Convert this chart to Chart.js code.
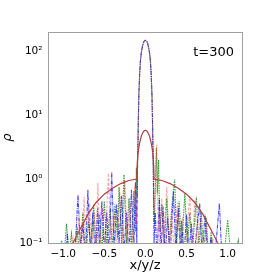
<!DOCTYPE html>
<html>
<head>
<meta charset="utf-8">
<script src="https://cdn.jsdelivr.net/npm/chart.js@4"></script>
<style>
  html, body { margin: 0; padding: 0; background: #fff; }
  #wrap { width: 270px; height: 273px; }
</style>
</head>
<body>
<div id="wrap"><canvas id="myChart" width="270" height="273"></canvas></div>
<script>
// tick values
const xTicks = [-1.0, -0.5, 0.0, 0.5, 1.0];
const yTicks = [0.1, 1, 10, 100];
const yMinor = [0.2, 0.3, 0.4, 0.5, 0.6, 0.7, 0.8, 0.9, 2, 3, 4, 5, 6, 7, 8, 9,
                20, 30, 40, 50, 60, 70, 80, 90, 200];

// analytic solution (solid red)
const solX = [-0.88, -0.85, -0.8, -0.75, -0.7, -0.6, -0.5, -0.4, -0.3, -0.2, -0.105,
              -0.1, -0.09, -0.07, -0.05, -0.03, -0.015, 0, 0.015, 0.03, 0.05, 0.07, 0.09, 0.1,
              0.105, 0.2, 0.3, 0.4, 0.5, 0.6, 0.7, 0.75, 0.8, 0.85, 0.88];
const solY = [0.1, 0.12, 0.16, 0.21, 0.28, 0.43, 0.58, 0.72, 0.85, 0.95, 1.0,
              1.7, 2.6, 3.7, 4.7, 5.4, 5.7, 5.8, 5.7, 5.4, 4.7, 3.7, 2.6, 1.7,
              1.0, 0.95, 0.85, 0.72, 0.58, 0.43, 0.28, 0.21, 0.16, 0.12, 0.1];

// central peak shared by the simulated profiles
const peakX = [-0.1, -0.095, -0.09, -0.085, -0.08, -0.07, -0.06, -0.05, -0.04, -0.03, -0.02, -0.01, 0,
               0.01, 0.02, 0.03, 0.04, 0.05, 0.06, 0.07, 0.08, 0.085, 0.09, 0.095, 0.1];
const peakY = [0.5, 2, 4, 10, 20, 45, 72, 95, 113, 128, 140, 146, 148,
               146, 140, 128, 113, 95, 72, 45, 20, 10, 4, 2, 0.5];

// x profile (blue dash-dot)
const blueLX = [-1.1, -0.97, -0.95, -0.93, -0.86, -0.82, -0.79, -0.76, -0.73, -0.70, -0.67, -0.64,
                -0.61, -0.58, -0.56, -0.53, -0.5, -0.47, -0.44, -0.41, -0.38, -0.35, -0.32, -0.29,
                -0.26, -0.23, -0.2, -0.17, -0.14, -0.12, -0.105];
const blueLY = [0.05, 0.05, 0.14, 0.05, 0.06, 0.57, 0.08, 0.2, 0.05, 0.68, 0.07, 0.3,
                0.06, 0.35, 0.09, 0.45, 0.07, 0.3, 0.06, 1.29, 0.08, 0.4, 0.1, 0.55,
                0.07, 0.3, 0.06, 0.68, 0.09, 0.9, 0.1];
const blueRX = [0.105, 0.12, 0.14, 0.17, 0.19, 0.215, 0.24, 0.27, 0.3, 0.34, 0.37, 0.4, 0.43,
                0.44, 0.47, 0.5, 0.53, 0.56, 0.59, 0.66, 0.69, 0.725, 0.76, 0.8, 0.84, 0.9,
                0.93, 1.0];
const blueRY = [0.1, 0.3, 0.06, 0.5, 0.07, 0.37, 0.06, 0.25, 0.06, 0.64, 0.08, 0.35, 0.06,
                0.22, 0.06, 0.28, 0.07, 0.2, 0.06, 0.42, 0.06, 0.28, 0.06, 0.12, 0.05, 0.42,
                0.06, 0.05];

// y profile (light red dashed)
const pinkLX = [-0.92, -0.88, -0.85, -0.81, -0.78, -0.745, -0.72, -0.68, -0.65, -0.62, -0.6,
                -0.58, -0.55, -0.52, -0.49, -0.45, -0.42, -0.38, -0.35, -0.31, -0.28, -0.25,
                -0.22, -0.19, -0.16, -0.13, -0.11];
const pinkLY = [0.05, 0.12, 0.05, 0.25, 0.07, 0.53, 0.06, 0.42, 0.08, 0.3, 0.07,
                0.87, 0.1, 0.35, 0.08, 1.24, 0.1, 0.3, 0.07, 0.6, 0.1, 0.97,
                0.08, 0.5, 0.1, 0.8, 0.2];
const pinkRX = [0.105, 0.125, 0.138, 0.15, 0.17, 0.2, 0.22, 0.26, 0.29, 0.32, 0.35, 0.39,
                0.42, 0.45, 0.48, 0.54, 0.57, 0.6, 0.63, 0.67, 0.7, 0.74, 0.77, 0.82, 0.85];
const pinkRY = [0.3, 1.5, 3.45, 0.4, 0.08, 0.5, 0.1, 0.75, 0.08, 0.3, 0.07, 0.43,
                0.08, 0.25, 0.06, 0.55, 0.07, 0.47, 0.08, 0.25, 0.06, 0.18, 0.05, 0.12, 0.05];

// z profile (green dotted)
const greenLX = [-1.16, -1.1, -1.06, -1.02, -0.99, -0.96, -0.93, -0.9, -0.87, -0.83, -0.8,
                 -0.76, -0.73, -0.69, -0.66, -0.63, -0.6, -0.56, -0.53, -0.5, -0.47, -0.43,
                 -0.4, -0.37, -0.34, -0.32, -0.29, -0.26, -0.23, -0.2, -0.17, -0.14, -0.12, -0.11];
const greenLY = [0.05, 0.08, 0.05, 0.11, 0.06, 0.2, 0.07, 0.14, 0.05, 0.18, 0.06,
                 0.3, 0.06, 0.22, 0.07, 0.4, 0.08, 0.28, 0.07, 0.45, 0.09, 0.35,
                 0.08, 0.4, 0.12, 0.75, 0.1, 1.17, 0.1, 0.5, 0.08, 0.65, 0.15, 1.5];
const greenRX = [0.11, 0.125, 0.134, 0.145, 0.16, 0.175, 0.2, 0.23, 0.26, 0.29, 0.32, 0.356,
                 0.38, 0.41, 0.44, 0.48, 0.51, 0.54, 0.57, 0.62, 0.65, 0.68, 0.71, 0.74, 0.77,
                 0.8, 0.83, 0.9, 0.95, 1.0, 1.04, 1.08, 1.13, 1.16];
const greenRY = [0.2, 1.2, 3.06, 0.6, 2.0, 0.15, 0.4, 0.08, 0.5, 0.1, 0.35, 0.98,
                 0.1, 0.45, 0.08, 0.6, 0.09, 0.3, 0.07, 0.53, 0.08, 0.3, 0.06, 0.25, 0.05,
                 0.15, 0.05, 0.06, 0.05, 0.23, 0.06, 0.05, 0.11, 0.05];

function pts(xs, ys) { return xs.map((x, i) => ({ x: x, y: ys[i] })); }
function profile(lx, ly, rx, ry) {
  return pts(lx, ly).concat(pts(peakX, peakY), pts(rx, ry));
}

const FONT = 'DejaVu Sans';
const minus = s => s.replace('-', '\u2212');
const supMap = { '-': '\u207B', '0': '\u2070', '1': '\u00B9', '2': '\u00B2' };

const frame = {
  id: 'frame',
  afterDatasetsDraw(chart) {
    const a = chart.chartArea, c = chart.ctx;
    c.save();
    c.strokeStyle = '#a0a0a0';
    c.lineWidth = 1;
    c.strokeRect(Math.round(a.left) + 0.5, Math.round(a.top) + 0.5,
                 Math.round(a.right - a.left), Math.round(a.bottom - a.top));
    c.fillStyle = '#000';
    c.font = '13px "' + FONT + '"';
    c.textAlign = 'right';
    c.textBaseline = 'middle';
    c.fillText('t=300', a.right - 8, a.top + 21);
    c.restore();
  }
};

const ctx = document.getElementById('myChart');

new Chart(ctx, {
  type: 'line',
  data: {
    datasets: [
      { data: pts(solX, solY), borderColor: '#b83a3a', borderWidth: 1.2 },
      { data: profile(pinkLX, pinkLY, pinkRX, pinkRY), borderColor: 'rgba(255,60,60,0.45)',
        borderWidth: 1.1, borderDash: [3, 1.5] },
      { data: profile(blueLX, blueLY, blueRX, blueRY), borderColor: 'rgba(0,0,255,0.72)',
        borderWidth: 1.1, borderDash: [4, 1, 1, 1] },
      { data: profile(greenLX, greenLY, greenRX, greenRY), borderColor: 'rgba(0,128,0,0.8)',
        borderWidth: 1.1, borderDash: [1.5, 1] }
    ]
  },
  options: {
    responsive: false,
    animation: false,
    layout: { padding: { left: 0, top: 32, right: 28, bottom: 0 } },
    elements: { point: { radius: 0 }, line: { tension: 0 } },
    plugins: { legend: { display: false }, tooltip: { enabled: false } },
    scales: {
      x: {
        type: 'linear',
        min: -1.185,
        max: 1.175,
        afterBuildTicks: s => { s.ticks = xTicks.map(v => ({ value: v })); },
        afterFit: s => { s.height = 30; },
        grid: { display: false, drawTicks: true, tickLength: 3.5, tickColor: '#000' },
        border: { display: false },
        ticks: {
          color: '#000', padding: 1, maxRotation: 0,
          font: { family: FONT, size: 10.5 },
          callback: v => minus(v.toFixed(1))
        },
        title: { display: true, text: 'x/y/z', color: '#000', padding: 0,
                 font: { family: FONT, size: 13 } }
      },
      y: {
        type: 'logarithmic',
        min: 0.1,
        max: 200,
        afterBuildTicks: s => {
          s.ticks = yTicks.concat(yMinor).map(v => ({ value: v, major: yTicks.includes(v) }));
        },
        afterFit: s => { s.width = 48; },
        grid: { display: false, drawTicks: true, tickLength: 3.5,
                tickColor: c => (c.tick && c.tick.major) ? '#000' : '#c8c8c8' },
        border: { display: false },
        ticks: {
          color: '#000', padding: 2, autoSkip: false,
          font: { family: FONT, size: 10.5 },
          callback: v => {
            if (!yTicks.includes(v)) return '';
            const e = String(Math.round(Math.log10(v)));
            return '10' + e.split('').map(ch => supMap[ch]).join('');
          }
        },
        title: { display: true, text: 'ρ', color: '#000', padding: 0,
                 font: { family: FONT, size: 13, style: 'italic' } }
      }
    }
  },
  plugins: [frame]
});
</script>
</body>
</html>
